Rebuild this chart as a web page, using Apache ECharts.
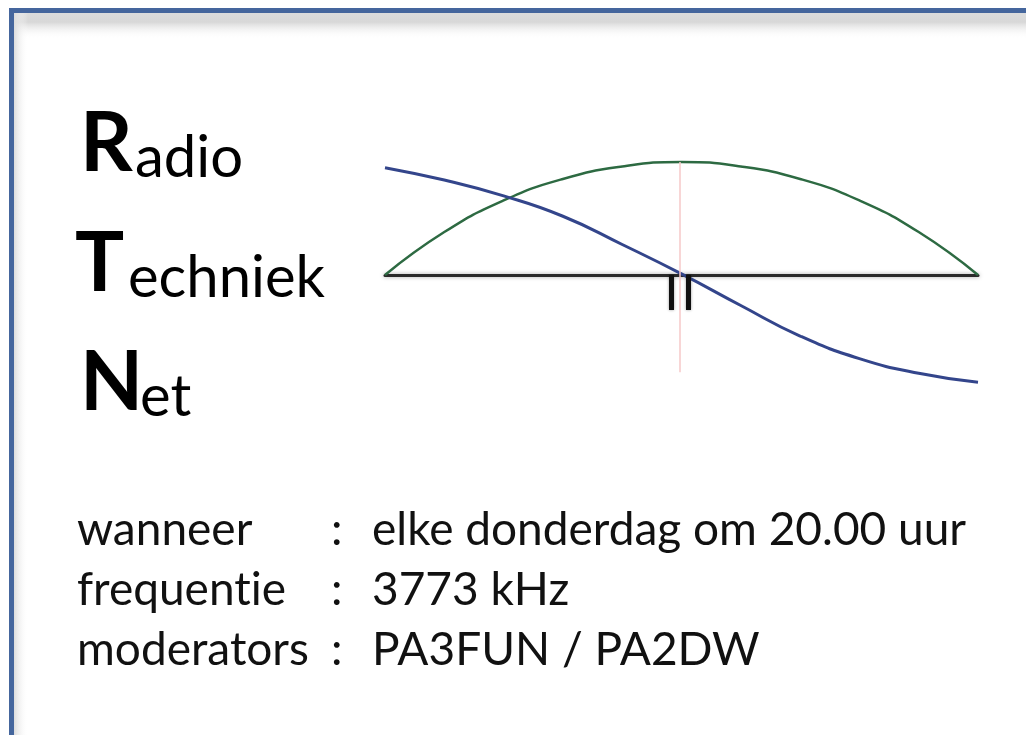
<!DOCTYPE html>
<html>
<head>
<meta charset="utf-8">
<script src="https://cdn.jsdelivr.net/npm/echarts@6/dist/echarts.min.js"></script>
<style>
  html, body { margin: 0; padding: 0; background: #fff; }
  #chart { width: 1026px; height: 735px; }
</style>
</head>
<body>
<div id="chart"></div>
<script>
// positie langs de lijn (0..100)
const xPos = [0, 10, 20, 30, 40, 50, 60, 70, 80, 90, 100];
// groene boog
const greenVals = [0, 0.38, 0.66, 0.85, 0.96, 1, 0.96, 0.85, 0.66, 0.38, 0];
// blauwe curve
const blueVals = [0.95, 0.84, 0.70, 0.52, 0.27, 0.01, -0.27, -0.54, -0.74, -0.87, -0.95];
// rode verticale lijn
const redX = 49.7;
const redRange = [1, -0.86];
// de twee staafjes onder de lijn
const barX = [48.3, 51.2];
const barRange = [0, -0.31];

const titleWords = [['R', 'adio'], ['T', 'echniek'], ['N', 'et']];
const infoLabels = ['wanneer', 'frequent\u200Cie', 'moderators'];
const infoValues = ['elke donderdag om 20.00 uur', '3773 kHz', 'PA3FUN / PA2DW'];

const chart = echarts.init(document.getElementById('chart'));

const pairs = (xs, ys) => xs.map((x, i) => [x, ys[i]]);

const font = 'Lato, "Open Sans", sans-serif';
const graphic = [];

// kader met blauwe rand en schaduw
graphic.push({
  type: 'rect', silent: true, z: -10,
  shape: { x: 11.5, y: 10.5, width: 1200, height: 1000 },
  style: { fill: '#fff', stroke: '#45669d', lineWidth: 5 }
});
graphic.push({
  type: 'rect', silent: true, z: -9,
  shape: { x: 14, y: 13, width: 1100, height: 26 },
  style: {
    fill: new echarts.graphic.LinearGradient(0, 0, 0, 1, [
      { offset: 0, color: '#dcdcdc' },
      { offset: 0.35, color: '#d8d8d8' },
      { offset: 1, color: 'rgba(255,255,255,0)' }
    ])
  }
});
graphic.push({
  type: 'rect', silent: true, z: -9,
  shape: { x: 14, y: 13, width: 14, height: 1000 },
  style: {
    fill: new echarts.graphic.LinearGradient(0, 0, 1, 0, [
      { offset: 0, color: '#dcdcdc' },
      { offset: 1, color: 'rgba(255,255,255,0)' }
    ])
  }
});

// titel: grote vette beginletter + rest
const titleTop = [113, 233, 352];
const bigX = [80, 75, 80];
const smallX = [135, 128, 140];
titleWords.forEach((w, i) => {
  graphic.push({
    type: 'text', left: bigX[i], top: titleTop[i] - 9,
    style: { text: w[0], font: 'bold 82px ' + font, fill: '#000' }
  });
  graphic.push({
    type: 'text', left: smallX[i], top: titleTop[i] + 16,
    style: { text: w[1], font: '58px ' + font, fill: '#000' }
  });
});

infoLabels.forEach((lab, i) => {
  const top = 507 + i * 60;
  graphic.push({ type: 'text', left: 77, top: top, style: { text: lab, font: '46px ' + font, fill: '#111' } });
  graphic.push({ type: 'text', left: 331, top: top, style: { text: ':', font: '46px ' + font, fill: '#111' } });
  graphic.push({ type: 'text', left: 372, top: top, style: { text: infoValues[i], font: '46px ' + font, fill: '#111' } });
});

chart.setOption({
  animation: false,
  grid: { left: 385, right: 48, top: 150.7, bottom: 335.7 },
  xAxis: {
    type: 'value', min: 0, max: 100,
    axisLine: {
      show: true, onZero: true,
      lineStyle: { color: '#2a2a2a', width: 3, shadowColor: 'rgba(0,0,0,0.35)', shadowBlur: 4 }
    },
    axisTick: { show: false }, axisLabel: { show: false }, splitLine: { show: false }
  },
  yAxis: {
    type: 'value', min: -1.1, max: 1.1,
    axisLine: { show: false }, axisTick: { show: false },
    axisLabel: { show: false }, splitLine: { show: false }
  },
  graphic: graphic,
  series: [
    {
      type: 'line', data: pairs(xPos, greenVals), smooth: true, symbol: 'none', clip: false,
      lineStyle: { color: '#2d6a42', width: 2.5 }, z: 3
    },
    {
      type: 'line', data: pairs(xPos, blueVals), smooth: true, symbol: 'none', clip: false,
      lineStyle: { color: '#33458b', width: 3 }, z: 4
    },
    {
      type: 'line', data: [], symbol: 'none', z: 1,
      markLine: {
        silent: true, symbol: 'none', label: { show: false },
        lineStyle: { color: '#f6c9c9', width: 1.5, type: 'solid' },
        data: [[{ coord: [redX, redRange[0]] }, { coord: [redX, redRange[1]] }]]
      }
    },
    {
      type: 'line', data: [], symbol: 'none', z: 2,
      markLine: {
        silent: true, symbol: 'none', label: { show: false },
        lineStyle: { color: '#111', width: 5, type: 'solid', shadowColor: 'rgba(0,0,0,0.4)', shadowBlur: 3 },
        data: barX.map(x => [{ coord: [x, barRange[0]] }, { coord: [x, barRange[1]] }])
      }
    }
  ]
});
</script>
</body>
</html>
